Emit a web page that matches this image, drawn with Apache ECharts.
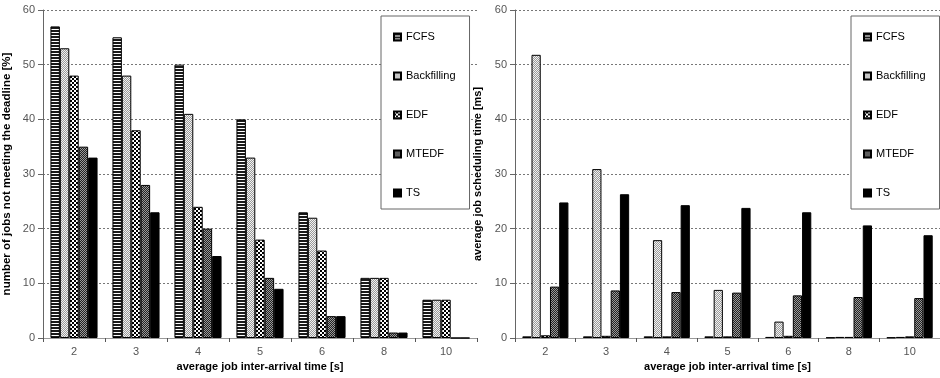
<!DOCTYPE html>
<html><head><meta charset="utf-8">
<script src="https://cdn.jsdelivr.net/npm/echarts@6/dist/echarts.min.js"></script>
<style>html,body{margin:0;padding:0;background:#fff}#c{width:940px;height:378px}</style>
</head><body><div id="c"></div>
<script>
var categories = ['2', '3', '4', '5', '6', '8', '10'];
var seriesNames = ['FCFS', 'Backfilling', 'EDF', 'MTEDF', 'TS'];
// left chart: number of jobs not meeting the deadline [%]
var missFCFS = [57, 55, 50, 40, 23, 11, 7];
var missBackfilling = [53, 48, 41, 33, 22, 11, 7];
var missEDF = [48, 38, 24, 18, 16, 11, 7];
var missMTEDF = [35, 28, 20, 11, 4, 1, 0];
var missTS = [33, 23, 15, 9, 4, 1, 0];
// right chart: average job scheduling time [ms]
var timeFCFS = [0.3, 0.3, 0.3, 0.3, 0.2, 0.1, 0.1];
var timeBackfilling = [51.8, 30.9, 17.9, 8.8, 3.0, 0.2, 0.2];
var timeEDF = [0.5, 0.4, 0.3, 0.3, 0.4, 0.2, 0.3];
var timeMTEDF = [9.4, 8.7, 8.4, 8.3, 7.8, 7.5, 7.3];
var timeTS = [24.8, 26.3, 24.3, 23.8, 23.0, 20.6, 18.8];
var yTicksMax = 60, yTicksStep = 10;

function pat(w, h, cells) {
  var c = document.createElement('canvas'); c.width = w; c.height = h;
  var ctx = c.getContext('2d');
  for (var y = 0; y < h; y++) for (var x = 0; x < w; x++) {
    ctx.fillStyle = cells(x, y); ctx.fillRect(x, y, 1, 1);
  }
  return { image: c, repeat: 'repeat' };
}
var patterns = [
  pat(3, 3, function (x, y) { return y < 2 ? '#1a1a1a' : '#ffffff'; }),
  pat(2, 2, function (x, y) { return (x + y) % 2 ? '#9a9a9a' : '#f2f2f2'; }),
  pat(4, 4, function (x, y) { return ((x >> 1) + (y >> 1)) % 2 ? '#000000' : '#ffffff'; }),
  pat(2, 2, function (x, y) { return (x + y) % 2 ? '#222222' : '#9a9a9a'; }),
  '#000000'
];

var font = '"Liberation Sans", Arial, sans-serif';
function xAx(idx) {
  return {
    type: 'category', gridIndex: idx, data: categories,
    name: 'average job inter-arrival time [s]', nameLocation: 'middle', nameGap: 20,
    nameTextStyle: { fontFamily: font, fontSize: 11, fontWeight: 'bold', color: '#000' },
    axisLine: { lineStyle: { color: '#999', width: 1 } },
    axisTick: { show: true, length: 4, lineStyle: { color: '#555' } },
    axisLabel: { fontFamily: font, fontSize: 11, color: '#555', margin: 8 }
  };
}
function yAx(idx, name, gap, fs) {
  return {
    type: 'value', gridIndex: idx, min: 0, max: yTicksMax, interval: yTicksStep,
    name: name, nameLocation: 'middle', nameGap: gap,
    nameTextStyle: { fontFamily: font, fontSize: fs, fontWeight: 'bold', color: '#000' },
    axisLine: { show: true, lineStyle: { color: '#666', width: 1 } },
    axisTick: { show: true, length: 5, lineStyle: { color: '#666' } },
    axisLabel: { fontFamily: font, fontSize: 11, color: '#555', margin: 8 },
    splitLine: { show: true, lineStyle: { color: '#777', type: [2, 2], width: 1 } }
  };
}
function mk(name, i, data, g) {
  return {
    name: name, type: 'bar', xAxisIndex: g, yAxisIndex: g, data: data,
    barGap: '0%', barCategoryGap: '24%',
    itemStyle: { color: patterns[i], borderColor: '#000', borderWidth: 1 },
    emphasis: { disabled: true }, animation: false
  };
}
function lg(left) {
  return {
    orient: 'vertical', left: left, top: 16, data: seriesNames,
    backgroundColor: '#fff', borderColor: '#666', borderWidth: 1,
    padding: [15, 14, 10, 12], itemGap: 27, itemWidth: 7, itemHeight: 7, icon: 'rect',
    textStyle: { fontFamily: font, fontSize: 11, color: '#000', lineHeight: 12 }, selectedMode: false
  };
}
var leftData = [missFCFS, missBackfilling, missEDF, missMTEDF, missTS];
var rightData = [timeFCFS, timeBackfilling, timeEDF, timeMTEDF, timeTS];
var series = [];
seriesNames.forEach(function (n, i) { series.push(mk(n, i, leftData[i], 0)); });
seriesNames.forEach(function (n, i) { series.push(mk(n, i, rightData[i], 1)); });

var chart = echarts.init(document.getElementById('c'), null, { renderer: 'canvas' });
chart.setOption({
  animation: false,
  backgroundColor: '#fff',
  grid: [
    { left: 43, top: 10, width: 434, height: 328 },
    { left: 515, top: 10, width: 434, height: 328 }
  ],
  legend: [lg(381), lg(851)],
  xAxis: [xAx(0), xAx(1)],
  yAxis: [yAx(0, 'number of jobs not meeting the deadline [%]', 30, 11.5), yAx(1, 'average job scheduling time [ms]', 32, 11)],
  series: series
});
</script></body></html>
